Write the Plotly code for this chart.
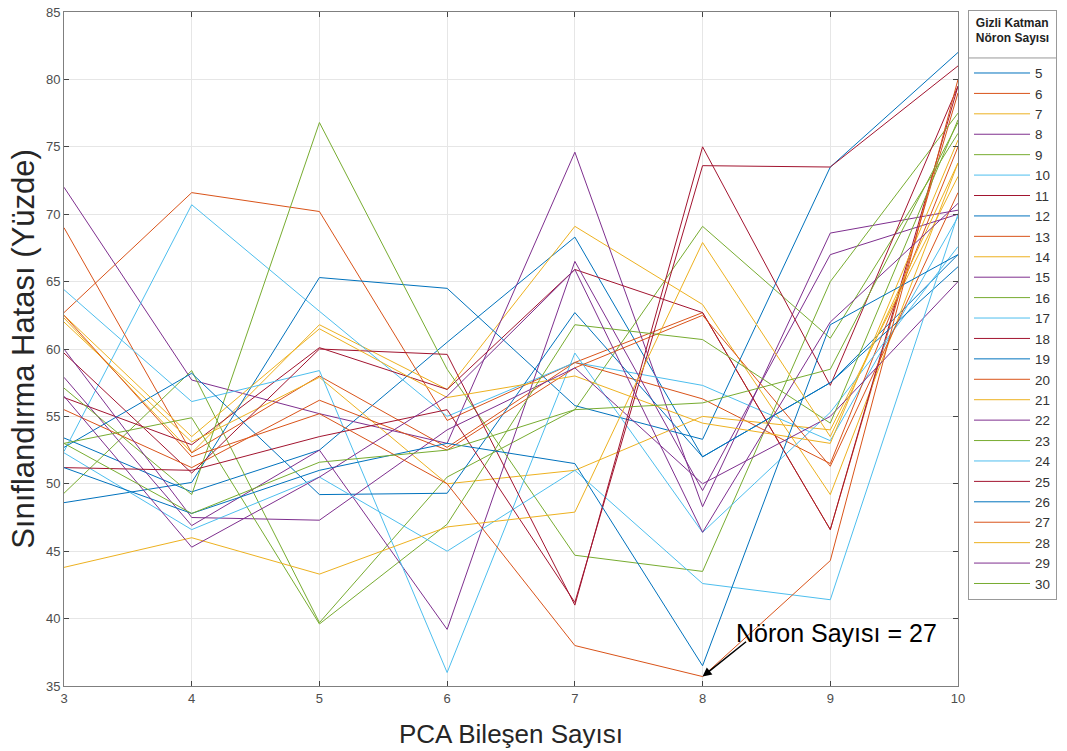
import plotly.graph_objects as go

pca = [3, 4, 5, 6, 7, 8, 9, 10]
neurons = list(range(5, 31))

err = {
    5:  [53.4, 49.4, 52.5, 60.5, 68.3, 52.0, 57.5, 67.0],
    6:  [62.7, 71.6, 70.2, 54.7, 59.0, 62.7, 46.6, 79.0],
    7:  [62.3, 52.3, 61.8, 57.0, 69.1, 63.3, 49.2, 73.8],
    8:  [72.0, 57.7, 55.2, 53.0, 74.6, 48.3, 68.6, 70.3],
    9:  [49.3, 58.4, 39.7, 50.5, 55.5, 69.1, 60.8, 76.0],
    10: [52.4, 70.7, 62.8, 55.0, 59.0, 57.3, 53.2, 69.8],
    11: [56.4, 52.9, 60.1, 57.0, 65.9, 62.7, 46.6, 79.5],
    12: [48.6, 50.1, 65.3, 64.5, 55.8, 53.3, 73.5, 82.0],
    13: [69.0, 52.3, 58.0, 52.7, 59.0, 56.3, 51.5, 75.0],
    14: [62.0, 53.1, 57.9, 50.0, 51.0, 55.0, 54.0, 72.8],
    15: [57.9, 46.9, 52.5, 39.2, 66.5, 49.5, 67.0, 70.0],
    16: [57.1, 49.2, 76.8, 58.5, 44.7, 43.5, 65.0, 77.5],
    17: [64.4, 56.1, 58.4, 36.0, 59.7, 46.4, 55.3, 67.6],
    18: [59.7, 50.8, 60.0, 59.6, 41.0, 75.0, 57.3, 79.5],
    19: [52.7, 58.2, 49.2, 49.3, 62.7, 52.0, 57.5, 66.1],
    20: [55.5, 51.2, 56.2, 52.5, 58.6, 62.5, 51.3, 71.6],
    21: [62.5, 53.5, 61.5, 56.4, 58.0, 54.5, 53.0, 75.5],
    22: [60.0, 47.5, 47.3, 54.0, 58.6, 50.0, 55.0, 65.0],
    23: [53.0, 54.9, 39.6, 47.0, 61.8, 60.7, 54.5, 77.0],
    24: [52.3, 46.6, 50.5, 45.0, 51.0, 42.6, 41.4, 70.0],
    25: [51.2, 51.0, 53.5, 55.5, 41.2, 73.6, 73.5, 81.0],
    26: [51.2, 47.8, 51.0, 53.0, 51.5, 36.5, 61.8, 67.0],
    27: [62.5, 52.0, 55.2, 50.0, 38.0, 35.7, 44.3, 80.0],
    28: [43.8, 46.0, 43.3, 46.8, 47.9, 67.9, 53.5, 73.8],
    29: [56.5, 45.3, 50.5, 56.5, 65.9, 46.4, 62.0, 70.8],
    30: [53.0, 47.8, 51.6, 52.5, 55.5, 56.0, 58.5, 76.8],
}

x_ticks = [3, 4, 5, 6, 7, 8, 9, 10]
y_ticks = [35, 40, 45, 50, 55, 60, 65, 70, 75, 80, 85]

matlab_colors = ["#0072BD", "#D95319", "#EDB120", "#7E2F8E",
                 "#77AC30", "#4DBEEE", "#A2142F"]

fig = go.Figure()
for i, n in enumerate(neurons):
    fig.add_trace(go.Scatter(
        x=pca, y=err[n], mode="lines", name=str(n),
        line=dict(color=matlab_colors[i % 7], width=1),
    ))

axis_common = dict(
    showgrid=True, gridcolor="#e6e6e6", gridwidth=1,
    showline=True, linecolor="#7f7f7f", linewidth=1, mirror="ticks",
    ticks="inside", ticklen=5, tickcolor="#444444",
    tickfont=dict(family="Liberation Sans, Arial", size=13, color="#4d4d4d"),
    zeroline=False, automargin=False,
)

fig.update_layout(
    width=1067, height=751,
    margin=dict(l=64, r=109, t=12, b=65, autoexpand=False),
    paper_bgcolor="white", plot_bgcolor="white",
    font=dict(family="Liberation Sans, Arial", color="#262626"),
    xaxis=dict(range=[3, 10], tickvals=x_ticks,
               title=dict(text="PCA Bileşen Sayısı",
                          font=dict(size=26, color="#262626"), standoff=20),
               **axis_common),
    yaxis=dict(range=[35, 85], tickvals=y_ticks,
               title=dict(text="Sınıflandırma Hatası (Yüzde)",
                          font=dict(size=31, color="#262626"), standoff=2),
               **axis_common),
    legend=dict(
        x=1.0112, y=1.003, xanchor="left", yanchor="top",
        bordercolor="#999999", borderwidth=1, bgcolor="rgba(255,255,255,0)",
        font=dict(size=13.4, color="#333333"),
        itemwidth=56, tracegroupgap=0, maxheight=720,
        title=dict(text="<b>Gizli Katman<br>Nöron Sayısı</b><br> ",
                   font=dict(size=12, color="#222222"), side="top center"),
    ),
    showlegend=True,
)

# separator line under the legend title (MATLAB style)
fig.add_shape(type="line", xref="paper", yref="paper",
              x0=1.0112, x1=1.1096, y0=0.9318, y1=0.9318,
              line=dict(color="#999999", width=1))

fig.add_annotation(x=8, y=35.7, xref="x", yref="y", text="",
                   showarrow=True, arrowhead=2, arrowsize=1.2, arrowwidth=1.5,
                   arrowcolor="black", ax=45, ay=-36)
fig.add_annotation(x=9.05, y=38.9, xref="x", yref="y",
                   text="Nöron Sayısı = 27", showarrow=False,
                   font=dict(size=25, color="black"))

fig.write_html("out.html")
